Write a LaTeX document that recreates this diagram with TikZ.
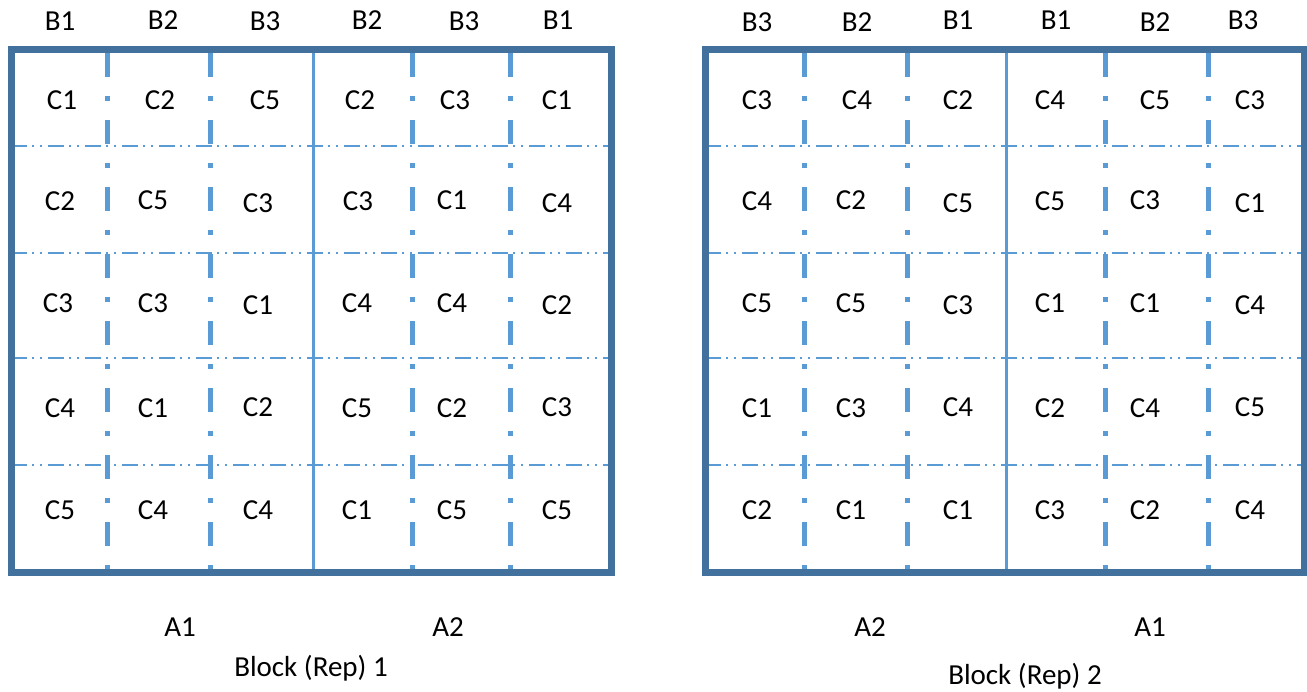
\documentclass[tikz,border=0pt]{standalone}
\usepackage{fontspec}
\setmainfont{Carlito}
\definecolor{bdr}{RGB}{65,113,156}
\definecolor{inr}{RGB}{91,155,213}
\begin{document}
\begin{tikzpicture}[x=1pt,y=-1pt,
  lbl/.style={inner sep=0pt,font=\fontsize{29}{33}\selectfont,anchor=center},
  frame/.style={draw=bdr,line width=7pt},
  solidsep/.style={draw=inr,line width=3pt},
  vdash/.style={draw=inr,line width=5pt,dash pattern=on 24pt off 19pt on 5pt off 19pt},
  hdash/.style={draw=inr,line width=2pt,dash pattern=on 16pt off 5pt on 2pt off 6pt on 2pt off 6pt}]
\useasboundingbox (0,0) rectangle (1307,692);
% ---------- left block ----------
\foreach \y in {146,253,358,465} \draw[hdash] (11,\y) -- (611,\y);
\foreach \x in {107.5,210,412.5,510} \draw[vdash] (\x,53) -- (\x,569);
\draw[solidsep] (313.5,50) -- (313.5,572);
\draw[frame] (11,50) rectangle (611,572);
% ---------- right block ----------
\foreach \y in {146,253,358,465} \draw[hdash] (705,\y) -- (1304,\y);
\foreach \x in {804.5,907,1105,1208} \draw[vdash] (\x,53) -- (\x,569);
\draw[solidsep] (1006.5,50) -- (1006.5,572);
\draw[frame] (705.5,50) rectangle (1304,572);
% ---------- left labels ----------
\node[lbl] (lb1) at (60,21) {B1};
\node[lbl] (lb2) at (163,20) {B2};
\node[lbl] (lb3) at (265,21) {B3};
\node[lbl] (lb4) at (367,20) {B2};
\node[lbl] (lb5) at (464,21) {B3};
\node[lbl] (lb6) at (558,20) {B1};
\node[lbl] (l11) at (62,100) {C1};
\node[lbl] (l12) at (160,100) {C2};
\node[lbl] (l13) at (265,100) {C5};
\node[lbl] (l14) at (360,100) {C2};
\node[lbl] (l15) at (455,100) {C3};
\node[lbl] (l16) at (557,100) {C1};
\node[lbl] (l21) at (60,201) {C2};
\node[lbl] (l22) at (153,200) {C5};
\node[lbl] (l23) at (258,203) {C3};
\node[lbl] (l24) at (358,201) {C3};
\node[lbl] (l25) at (452,200) {C1};
\node[lbl] (l26) at (557,203) {C4};
\node[lbl] (l31) at (58,303) {C3};
\node[lbl] (l32) at (153,303) {C3};
\node[lbl] (l33) at (258,305) {C1};
\node[lbl] (l34) at (357,303) {C4};
\node[lbl] (l35) at (452,303) {C4};
\node[lbl] (l36) at (557,305) {C2};
\node[lbl] (l41) at (60,408) {C4};
\node[lbl] (l42) at (153,408) {C1};
\node[lbl] (l43) at (258,407) {C2};
\node[lbl] (l44) at (357,408) {C5};
\node[lbl] (l45) at (452,408) {C2};
\node[lbl] (l46) at (557,407) {C3};
\node[lbl] (l51) at (60,510) {C5};
\node[lbl] (l52) at (153,510) {C4};
\node[lbl] (l53) at (258,510) {C4};
\node[lbl] (l54) at (357,510) {C1};
\node[lbl] (l55) at (452,510) {C5};
\node[lbl] (l56) at (557,510) {C5};
\node[lbl] (la1) at (180,627) {A1};
\node[lbl] (la2) at (448,627) {A2};
\node[lbl,anchor=base] (lblock) at (311,676) {Block (Rep) 1};
% ---------- right labels ----------
\node[lbl] (rb1) at (757,22) {B3};
\node[lbl] (rb2) at (857,22) {B2};
\node[lbl] (rb3) at (958,20) {B1};
\node[lbl] (rb4) at (1056,20) {B1};
\node[lbl] (rb5) at (1155,22) {B2};
\node[lbl] (rb6) at (1243,20) {B3};
\node[lbl] (r11) at (757,100) {C3};
\node[lbl] (r12) at (857,100) {C4};
\node[lbl] (r13) at (958,100) {C2};
\node[lbl] (r14) at (1050,100) {C4};
\node[lbl] (r15) at (1155,100) {C5};
\node[lbl] (r16) at (1250,100) {C3};
\node[lbl] (r21) at (757,201) {C4};
\node[lbl] (r22) at (851,200) {C2};
\node[lbl] (r23) at (958,203) {C5};
\node[lbl] (r24) at (1050,201) {C5};
\node[lbl] (r25) at (1145,200) {C3};
\node[lbl] (r26) at (1250,203) {C1};
\node[lbl] (r31) at (757,303) {C5};
\node[lbl] (r32) at (851,303) {C5};
\node[lbl] (r33) at (958,305) {C3};
\node[lbl] (r34) at (1050,303) {C1};
\node[lbl] (r35) at (1145,303) {C1};
\node[lbl] (r36) at (1250,305) {C4};
\node[lbl] (r41) at (757,408) {C1};
\node[lbl] (r42) at (851,408) {C3};
\node[lbl] (r43) at (958,407) {C4};
\node[lbl] (r44) at (1050,408) {C2};
\node[lbl] (r45) at (1145,408) {C4};
\node[lbl] (r46) at (1250,407) {C5};
\node[lbl] (r51) at (757,510) {C2};
\node[lbl] (r52) at (851,510) {C1};
\node[lbl] (r53) at (958,510) {C1};
\node[lbl] (r54) at (1050,510) {C3};
\node[lbl] (r55) at (1145,510) {C2};
\node[lbl] (r56) at (1250,510) {C4};
\node[lbl] (ra1) at (870,627) {A2};
\node[lbl] (ra2) at (1150,627) {A1};
\node[lbl,anchor=base] (rblock) at (1025,684) {Block (Rep) 2};
\end{tikzpicture}
\end{document}
